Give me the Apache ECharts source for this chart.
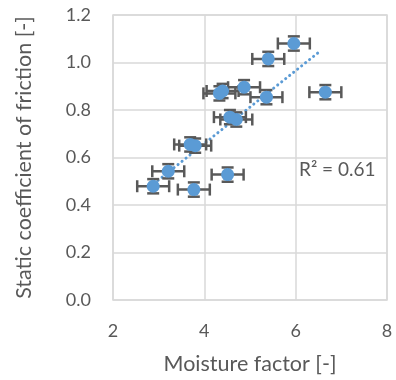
<!DOCTYPE html>
<html>
<head>
<meta charset="utf-8">
<script src="https://cdn.jsdelivr.net/npm/echarts@6/dist/echarts.min.js"></script>
<style>
  html, body { margin: 0; padding: 0; background: #fff; }
  #chart { width: 396px; height: 380px; }
</style>
</head>
<body>
<div id="chart"></div>
<script>
const moisture = [5.96, 5.40, 4.33, 4.40, 4.87, 5.36, 6.65, 4.56, 4.70, 3.69, 3.80, 3.21, 2.88, 3.77, 4.51];
const friction = [1.08, 1.015, 0.87, 0.88, 0.896, 0.854, 0.875, 0.77, 0.76, 0.655, 0.65, 0.542, 0.479, 0.465, 0.528];
const moistureErr = [0.35, 0.35, 0.35, 0.35, 0.35, 0.35, 0.35, 0.35, 0.35, 0.35, 0.35, 0.35, 0.35, 0.35, 0.35];
const frictionErr = [0.03, 0.03, 0.03, 0.03, 0.03, 0.03, 0.03, 0.03, 0.03, 0.03, 0.03, 0.03, 0.03, 0.03, 0.03];
const trendX = [2.9, 6.55];
const trendY = [0.49, 1.05];
const rSquared = "R² = 0.61";

const font = "Lato, 'Open Sans', sans-serif";
const textColor = "#595959";
const blue = "#5B9BD5";

const points = moisture.map((x, i) => [x, friction[i]]);
const errData = moisture.map((x, i) => [x, friction[i], moistureErr[i], frictionErr[i]]);

const chart = echarts.init(document.getElementById("chart"));

// error bars drawn with a custom series (horizontal + vertical with caps)
const renderErr = (params, api) => {
  const x = api.value(0), y = api.value(1), ex = api.value(2), ey = api.value(3);
  const left = api.coord([x - ex, y]);
  const right = api.coord([x + ex, y]);
  const top = api.coord([x, y + ey]);
  const bot = api.coord([x, y - ey]);
  const cap = 6;
  const style = { stroke: "#595959", lineWidth: 2.5 };
  const line = (x1, y1, x2, y2) => ({ type: "line", shape: { x1, y1, x2, y2 }, style });
  return {
    type: "group",
    children: [
      line(left[0], left[1], right[0], right[1]),
      line(left[0], left[1] - cap, left[0], left[1] + cap),
      line(right[0], right[1] - cap, right[0], right[1] + cap),
      line(top[0], top[1], bot[0], bot[1]),
      line(top[0] - cap, top[1], top[0] + cap, top[1]),
      line(bot[0] - cap, bot[1], bot[0] + cap, bot[1])
    ]
  };
};

const option = {
  animation: false,
  grid: { left: 113, right: 9, top: 15, bottom: 79, show: true, borderColor: "#d9d9d9", borderWidth: 1.5 },
  xAxis: {
    type: "value",
    min: 2, max: 8, interval: 2,
    name: "Moisture factor [-]",
    nameLocation: "middle",
    nameGap: 53,
    nameTextStyle: { fontFamily: font, fontSize: 21.5, color: textColor },
    axisLine: { show: false },
    axisTick: { show: false },
    axisLabel: { fontFamily: font, fontSize: 18, color: textColor, margin: 22 },
    splitLine: { lineStyle: { color: "#d9d9d9", width: 1.5 } }
  },
  yAxis: {
    type: "value",
    min: 0, max: 1.2, interval: 0.2,
    name: "Static coefficient of friction [-]",
    nameLocation: "middle",
    nameGap: 78,
    nameTextStyle: { fontFamily: font, fontSize: 21.5, color: textColor },
    axisLine: { show: false },
    axisTick: { show: false },
    axisLabel: { fontFamily: font, fontSize: 18, color: textColor, margin: 22, formatter: v => v.toFixed(1) },
    splitLine: { lineStyle: { color: "#d9d9d9", width: 1.5 } }
  },
  series: [
    {
      type: "line",
      data: trendX.map((x, i) => [x, trendY[i]]),
      symbol: "none",
      lineStyle: { color: blue, width: 3, type: [0.1, 5], cap: "round" },
      z: 1
    },
    {
      type: "custom",
      renderItem: renderErr,
      data: errData,
      z: 2
    },
    {
      type: "scatter",
      data: points,
      symbolSize: 13,
      itemStyle: { color: blue, opacity: 1 },
      z: 3
    }
  ],
  graphic: [
    {
      type: "text",
      left: 299, top: 160,
      style: { text: rSquared, fontFamily: font, fontSize: 19, fill: textColor }
    }
  ]
};

chart.setOption(option);
</script>
</body>
</html>
